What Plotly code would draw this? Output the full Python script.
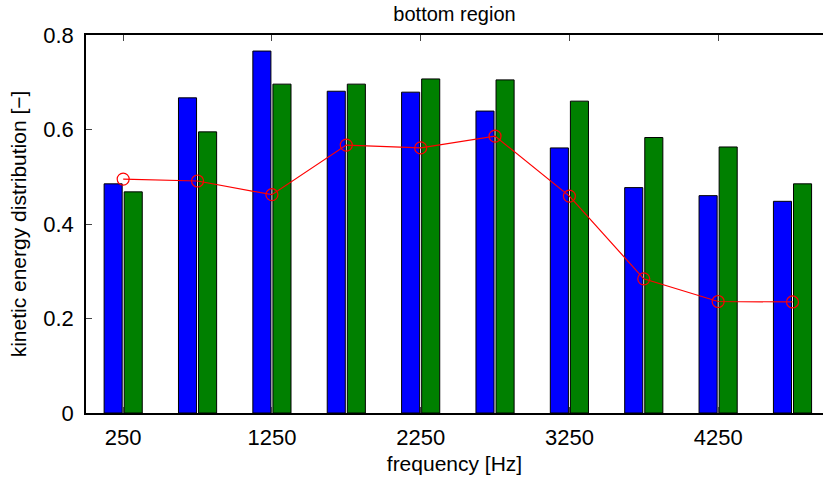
import plotly.graph_objects as go

# frekvens-grupper og verdier lest av figuren
freqs = [250, 750, 1250, 1750, 2250, 2750, 3250, 3750, 4250, 4750]
blue_vals = [0.485, 0.667, 0.766, 0.681, 0.679, 0.639, 0.561, 0.477, 0.460, 0.448]
green_vals = [0.468, 0.595, 0.696, 0.696, 0.707, 0.705, 0.660, 0.583, 0.563, 0.485]
red_vals = [0.495, 0.491, 0.462, 0.567, 0.561, 0.586, 0.459, 0.284, 0.236, 0.235]
x_ticks = [250, 1250, 2250, 3250, 4250]
y_ticks = [0, 0.2, 0.4, 0.6, 0.8]

font_name = "Liberation Sans, Arial, sans-serif"

fig = go.Figure()
fig.add_trace(go.Bar(x=freqs, y=blue_vals, marker=dict(color="#0000ff", line=dict(color="black", width=1))))
fig.add_trace(go.Bar(x=freqs, y=green_vals, marker=dict(color="#008000", line=dict(color="black", width=1))))
fig.add_trace(go.Scatter(
    x=freqs, y=red_vals, mode="lines+markers",
    line=dict(color="#ff0000", width=1.2),
    marker=dict(symbol="circle-open", size=12, color="#ff0000", line=dict(width=1.2)),
))

fig.update_layout(
    width=823, height=483,
    margin=dict(l=86, r=0, t=35, b=70, autoexpand=False),
    paper_bgcolor="white", plot_bgcolor="white",
    showlegend=False,
    barmode="group", bargap=0.46, bargroupgap=0.1,
    font=dict(family=font_name, color="black"),
    title=dict(text="bottom region", x=0.5, xref="paper", y=0.985, yanchor="top",
               font=dict(size=20)),
)
fig.update_xaxes(
    range=[0, 4955], tickvals=x_ticks, ticks="inside", ticklen=6,
    showline=True, linecolor="black", linewidth=1.6, mirror="ticks",
    showgrid=False, zeroline=False, tickfont=dict(size=22), ticklabelstandoff=4,
    automargin=False,
    title=dict(text="frequency [Hz]", font=dict(size=21), standoff=7),
)
fig.update_yaxes(
    range=[0, 0.8], tickvals=y_ticks, ticktext=["0", "0.2", "0.4", "0.6", "0.8"],
    ticks="inside", ticklen=6, ticklabelstandoff=6,
    showline=True, linecolor="black", linewidth=1.6,
    showgrid=False, zeroline=False, tickfont=dict(size=22),
    automargin=False,
    title=dict(text="kinetic energy distribution [\u2212]", font=dict(size=21), standoff=11),
)

fig.write_html("out.html", config={"displayModeBar": False},
               post_script="document.body.style.margin='0';")
